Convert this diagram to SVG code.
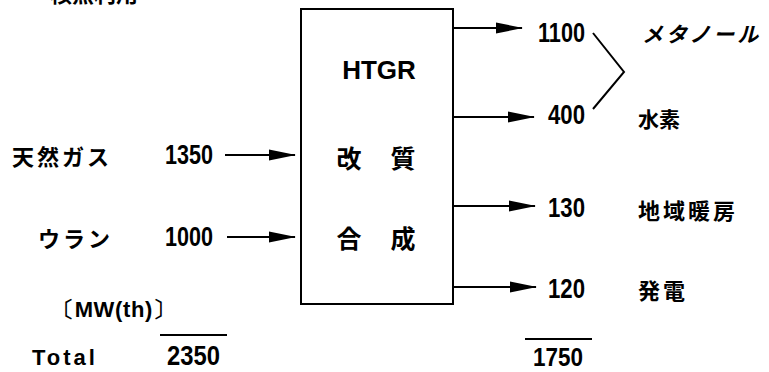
<svg xmlns="http://www.w3.org/2000/svg" width="769" height="372" viewBox="0 0 769 372">
<style>
.jp{font-family:"Noto Sans CJK JP","Noto Sans",sans-serif;font-weight:bold;fill:#000;dominant-baseline:central}
.num{font-family:"Liberation Sans",Arial,sans-serif;font-weight:bold;fill:#000}
.lat{font-family:"Liberation Sans",Arial,sans-serif;font-weight:bold;fill:#000}
.ln{stroke:#000;stroke-width:2;fill:none}
</style>
<defs>
<marker id="ah" markerUnits="userSpaceOnUse" markerWidth="27" markerHeight="12" refX="26" refY="6" orient="auto">
<path d="M0,0.5 L27,6 L0,11.5 Z" fill="#000"/>
</marker>
</defs>
<text class="jp" x="28" y="2" font-size="22" style="dominant-baseline:auto">・核熱利用</text>
<g id="reactor">
<rect x="301" y="9" width="152" height="295" fill="#fff" stroke="#000" stroke-width="2"/>
<text class="lat" x="379" y="79" font-size="26" text-anchor="middle">HTGR</text>
<text class="jp" x="349" y="157" font-size="25" text-anchor="middle">改</text>
<text class="jp" x="403" y="157" font-size="25" text-anchor="middle">質</text>
<text class="jp" x="349" y="237" font-size="25" text-anchor="middle">合</text>
<text class="jp" x="403" y="237" font-size="25" text-anchor="middle">成</text>
</g>
<g id="in-gas">
<text class="jp" x="12" y="155" font-size="22" letter-spacing="3">天然ガス</text>
<text class="num" x="165" y="164" font-size="27" textLength="48" lengthAdjust="spacingAndGlyphs">1350</text>
</g>
<g id="in-uran">
<text class="jp" x="38" y="237" font-size="22" letter-spacing="3">ウラン</text>
<text class="num" x="165" y="246" font-size="27" textLength="48" lengthAdjust="spacingAndGlyphs">1000</text>
</g>
<g id="out-methanol">
<text class="num" x="538" y="42" font-size="27" textLength="47" lengthAdjust="spacingAndGlyphs">1100</text>
<text class="jp" x="642" y="33" font-size="21" letter-spacing="3" font-style="italic">メタノール</text>
</g>
<g id="out-hydrogen">
<text class="num" x="548" y="124" font-size="27" textLength="37" lengthAdjust="spacingAndGlyphs">400</text>
<text class="jp" x="638" y="118" font-size="21">水素</text>
</g>
<g id="out-heat">
<text class="num" x="548" y="217" font-size="27" textLength="37" lengthAdjust="spacingAndGlyphs">130</text>
<text class="jp" x="638" y="209" font-size="22" letter-spacing="3">地域暖房</text>
</g>
<g id="out-power">
<text class="num" x="548" y="298" font-size="27" textLength="37" lengthAdjust="spacingAndGlyphs">120</text>
<text class="jp" x="638" y="289" font-size="22" letter-spacing="3">発電</text>
</g>
<g id="totals">
<text class="lat" x="52" y="317" font-size="22" letter-spacing="2" textLength="125">〔MW(th)〕</text>
<text class="lat" x="32" y="365" font-size="22" letter-spacing="3">Total</text>
<line class="ln" x1="160" y1="335" x2="227" y2="335"/>
<text class="num" x="167" y="365" font-size="27" textLength="53" lengthAdjust="spacingAndGlyphs">2350</text>
<line class="ln" x1="525" y1="339" x2="592" y2="339"/>
<text class="num" x="533" y="366" font-size="26" textLength="50" lengthAdjust="spacingAndGlyphs">1750</text>
</g>
<g id="connectors">
<line class="ln" x1="225" y1="155" x2="295" y2="155" marker-end="url(#ah)"/>
<line class="ln" x1="227" y1="237" x2="295" y2="237" marker-end="url(#ah)"/>
<line class="ln" x1="453" y1="28" x2="522" y2="28" marker-end="url(#ah)"/>
<line class="ln" x1="453" y1="117" x2="534" y2="117" marker-end="url(#ah)"/>
<line class="ln" x1="453" y1="206" x2="535" y2="206" marker-end="url(#ah)"/>
<line class="ln" x1="453" y1="287" x2="536" y2="287" marker-end="url(#ah)"/>
<polyline class="ln" points="593,33 624,72 593,109"/>
</g>
</svg>
